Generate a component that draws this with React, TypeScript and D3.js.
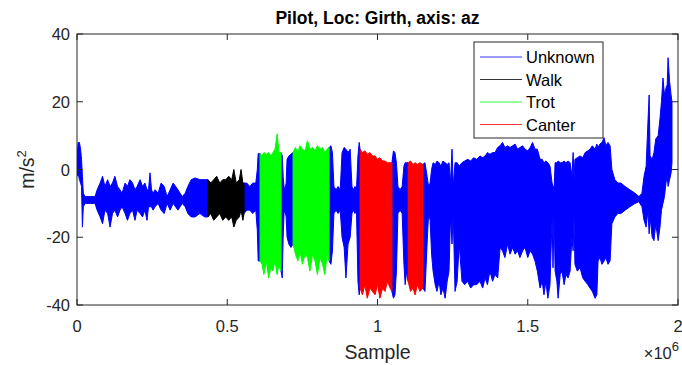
import React from 'react';
import * as d3 from 'd3';

// Envelope of the signal: [sample (thousands), upper m/s², lower m/s²]
const unknown1: number[][] = [
  [0, 4, -2], [4, 8, -1], [8, 8, -3], [12, 6, -4], [15, 3, -5], [18, -2, -17], [21, -7, -11],
  [27, -8, -10], [43, -8, -10], [60, -8, -10], [67, -6, -12], [77, -4, -14], [85, -2, -16],
  [93, -5, -12], [102, -3, -13], [110, -5, -17], [118, -4, -13], [126, -2, -12], [135, -5, -14],
  [143, -6, -12], [150, -7, -11], [160, -4, -13], [168, -5, -15], [176, -3, -13], [185, -4, -12],
  [193, -6, -15], [200, -5, -12], [210, -3, -13], [218, -5, -14], [226, -4, -12], [233, -6, -15],
  [238, -6, -11], [243, -1, -11], [248, -6, -11], [253, -7, -12], [260, -6, -11], [270, -7, -10],
  [280, -4, -12], [290, -5, -13], [300, -8, -10], [310, -6, -12], [320, -4, -10], [336, -6, -12],
  [350, -8, -10], [360, -7, -11], [369, -5, -13], [380, -3, -14], [393, -2.5, -14], [409, -3, -13],
  [425, -3, -14], [436, -3, -14],
];
const walk1: number[][] = [
  [436, -3, -14], [445, -4, -13], [455, -3, -15], [465, -2, -14], [475, -4, -13], [485, -3, -15],
  [495, -3, -14], [505, -2, -15], [515, -3, -14], [522, 0, -17], [530, -4, -15], [540, -3, -14],
  [546, 0, -12], [552, -4, -15], [556, -4, -13],
];
const unknown2: number[][] = [
  [556, -4, -13], [565, -4, -12], [575, -5, -12], [585, -4, -13], [595, -4, -12], [600, 0, -18],
  [603, 4.7, -27], [609, 4.7, -27],
];
const trot1: number[][] = [
  [609, 4.7, -27], [616, 4, -28], [622, 5, -31], [630, 4.5, -27], [638, 5, -32], [645, 4, -29],
  [652, 5, -30], [659, 6, -27], [666, 10.5, -31], [672, 5, -28], [679, 5, -30],
];
const unknown3: number[][] = [
  [679, 5, -30], [683, 4, -32], [686, -2, -20], [689, -5, -13], [692, -6, -12], [696, -4, -14],
  [699, 3, -20], [705, 4, -22], [712, 4.5, -23], [719, 5, -22],
];
const trot2: number[][] = [
  [719, 5, -22], [727, 6.5, -25], [735, 5, -27], [742, 7, -24], [750, 6, -28], [759, 5.5, -25],
  [767, 8.5, -26], [775, 6, -30], [784, 6.5, -25], [792, 5.5, -27], [800, 7, -31], [809, 6, -26],
  [817, 6.5, -28], [825, 5, -31], [832, 6, -25], [839, 6.5, -27],
];
const unknown4: number[][] = [
  [839, 6.5, -27], [845, 7, -28], [850, 5, -24], [855, -5, -13], [862, -6, -12], [869, -5, -13],
  [876, -6, -12], [882, 5, -20], [889, 6.5, -23], [895, 6, -32], [902, 5, -22], [909, 6, -20],
  [915, -5, -13], [920, -6, -12], [925, -5, -13], [930, -6, -12], [935, 4, -33], [939, 8, -37],
  [942, 6, -35],
];
const canter1: number[][] = [
  [942, 6, -35], [950, 5, -37], [958, 5.5, -34], [966, 4.5, -38], [975, 5, -35], [983, 4, -36],
  [992, 4, -37], [1000, 3, -34], [1008, 3.5, -38], [1017, 2.5, -35], [1025, 2.5, -36],
  [1033, 2, -33], [1042, 2, -35], [1048, 2, -36],
];
const unknown5: number[][] = [
  [1048, 2, -36], [1053, 5.5, -38], [1058, 5, -37], [1063, 2, -30], [1068, -5, -13], [1075, -6, -12],
  [1082, -5, -13], [1088, 1, -28], [1092, 2, -34], [1097, 2, -30], [1102, 2, -33],
];
const canter2: number[][] = [
  [1102, 2, -33], [1110, 2.5, -36], [1118, 1.5, -35], [1125, 2, -37], [1133, 1.5, -34],
  [1141, 2, -36], [1151, 1.5, -35],
];
const unknown6: number[][] = [
  [1151, 1.5, -35], [1158, 2, -36], [1165, -2, -22], [1170, -5, -13], [1175, -4, -15], [1180, 0, -25],
  [1185, 2, -30], [1192, 1.5, -34], [1198, 2.5, -36], [1205, 2, -33], [1211, 1, -37], [1218, 2.5, -35],
  [1225, 2, -38], [1232, 1.5, -33], [1238, 2, -30], [1243, -4, -14], [1248, 6, -22], [1252, -5, -13],
  [1258, 2, -36], [1265, 2, -33], [1272, 1, -22], [1281, 2, -33], [1290, 2.5, -34], [1300, 3, -33],
  [1310, 2.5, -35], [1320, 3.5, -34], [1330, 3, -34], [1341, 4, -33], [1350, 3.5, -35], [1358, 4, -32],
  [1366, 5, -34], [1374, 4.5, -30], [1383, 5, -33], [1391, 5, -31], [1400, 6.5, -32], [1408, 7, -23],
  [1416, 8, -24], [1424, 6.5, -26], [1433, 7, -22], [1441, 6.5, -25], [1450, 7, -23], [1458, 7.5, -25],
  [1466, 6, -24], [1474, 6.5, -26], [1483, 7, -24], [1491, 6, -23], [1500, 5.5, -26], [1508, 6.5, -24],
  [1516, 8, -25], [1524, 6, -27], [1532, 6, -30], [1541, 3, -35], [1548, 3, -33], [1554, 2, -37],
  [1560, 2.5, -33], [1567, 2, -38], [1574, 1, -34], [1581, -4, -14], [1584, -5, -29], [1588, -5, -13],
  [1591, 2, -30], [1597, 2, -33], [1601, 2.5, -38], [1608, 2, -31], [1614, 2, -30], [1621, 2.5, -34],
  [1627, 2, -31], [1634, 2.5, -32], [1641, 2, -30], [1647, -2, -20], [1651, 5, -24], [1654, -3, -14],
  [1657, 3, -28], [1665, 3.5, -30], [1674, 4, -29], [1683, 3.5, -32], [1691, 5, -33], [1700, 5.5, -34],
  [1707, 6, -35], [1715, 7, -36], [1724, 6, -38], [1730, 7.5, -37], [1734, 6.5, -27], [1740, 7.5, -26],
  [1747, 8, -28], [1754, 9.4, -27], [1760, 7, -26], [1767, 8, -28], [1774, 7, -27], [1780, 0, -16],
  [1790, -3, -14], [1800, -4, -13], [1810, -4, -13], [1824, -5, -12], [1840, -6, -11], [1857, -7, -10],
  [1870, -8, -9.5], [1880, -7, -11], [1887, -2, -15], [1894, 1, -17], [1900, 14, -12], [1904, 22, -19],
  [1907, 4, -14], [1914, 3, -20], [1920, 5, -21], [1926, 9, -16], [1934, 10, -21], [1940, 15, -17],
  [1945, 20, -12], [1950, 27, -10], [1955, 22, -8], [1960, 24, -4], [1964, 25, -2], [1967, 33, -5],
  [1972, 26, -3], [1977, 22, -1], [1980, 20, 2],
];

const gaitNames = ['Unknown', 'Walk', 'Trot', 'Canter'];
const gaitColors = ['#0000ff', '#000000', '#00ff00', '#ff0000'];
const segments: { gait: number; pts: number[][] }[] = [
  { gait: 0, pts: unknown1 }, { gait: 0, pts: unknown2 }, { gait: 0, pts: unknown3 },
  { gait: 0, pts: unknown4 }, { gait: 0, pts: unknown5 }, { gait: 0, pts: unknown6 },
  { gait: 1, pts: walk1 }, { gait: 2, pts: trot1 }, { gait: 2, pts: trot2 },
  { gait: 3, pts: canter1 }, { gait: 3, pts: canter2 },
];

const xTicks = [0, 0.5, 1, 1.5, 2];
const yTicks = [-40, -20, 0, 20, 40];

const W = 682, H = 365;
const L = 77, R = 678, T = 34, B = 305;
const AX = '#262626';
const FONT = 'Liberation Sans, Arial, Helvetica, sans-serif';

export default function App() {
  const x = d3.scaleLinear().domain([0, 2]).range([L, R]);
  const y = d3.scaleLinear().domain([-40, 40]).range([B, T]);
  const area = d3.area<number[]>()
    .x(d => x(d[0] / 1000))
    .y0(d => y(d[2]))
    .y1(d => y(d[1]));
  const tl = 6;
  return (
    <svg width={W} height={H} style={{ position: 'absolute', left: 0, top: 0, background: '#fff' }}>
      <rect x={0} y={0} width={W} height={H} fill="#fff" />
      <defs>
        <clipPath id="plotclip"><rect x={L} y={T} width={R - L} height={B - T} /></clipPath>
      </defs>
      <g clipPath="url(#plotclip)">
        {segments.map((s, i) => (
          <path key={i} d={area(s.pts) || ''} fill={gaitColors[s.gait]}
            stroke={gaitColors[s.gait]} strokeWidth={1} strokeLinejoin="miter" />
        ))}
      </g>
      <rect x={L} y={T} width={R - L} height={B - T} fill="none" stroke={AX} strokeWidth={1} />
      {xTicks.map(t => (
        <g key={'x' + t}>
          <line x1={x(t)} x2={x(t)} y1={B} y2={B - tl} stroke={AX} />
          <line x1={x(t)} x2={x(t)} y1={T} y2={T + tl} stroke={AX} />
          <text x={x(t)} y={332} textAnchor="middle" fontSize={16.5} fill={AX} fontFamily={FONT}>{t}</text>
        </g>
      ))}
      {yTicks.map(t => (
        <g key={'y' + t}>
          <line x1={L} x2={L + tl} y1={y(t)} y2={y(t)} stroke={AX} />
          <line x1={R} x2={R - tl} y1={y(t)} y2={y(t)} stroke={AX} />
          <text x={70} y={y(t) + 6} textAnchor="end" fontSize={16.5} fill={AX} fontFamily={FONT}>{t}</text>
        </g>
      ))}
      <text x={(L + R) / 2} y={24} textAnchor="middle" fontSize={17.5} fontWeight="bold" fill="#000" fontFamily={FONT}>
        Pilot, Loc: Girth, axis: az
      </text>
      <text x={(L + R) / 2} y={359} textAnchor="middle" fontSize={19.5} fill={AX} fontFamily={FONT}>Sample</text>
      <text x={R + 1} y={359} textAnchor="end" fontSize={16.5} fill={AX} fontFamily={FONT}>
        ×10<tspan dy={-8} fontSize={13}>6</tspan>
      </text>
      <text transform={`translate(34,${(T + B) / 2}) rotate(-90)`} textAnchor="middle" fontSize={19.5} fill={AX} fontFamily={FONT}>
        m/s<tspan dy={-8} fontSize={13}>2</tspan>
      </text>
      <rect x={474} y={42} width={129} height={96} fill="#fff" stroke={AX} strokeWidth={1} />
      {gaitNames.map((n, i) => (
        <g key={n}>
          <line x1={480} x2={522} y1={57 + i * 22.5} y2={57 + i * 22.5} stroke={gaitColors[i]} strokeWidth={0.8} />
          <text x={526} y={63 + i * 22.5} fontSize={16.5} fill="#000" fontFamily={FONT}>{n}</text>
        </g>
      ))}
    </svg>
  );
}
